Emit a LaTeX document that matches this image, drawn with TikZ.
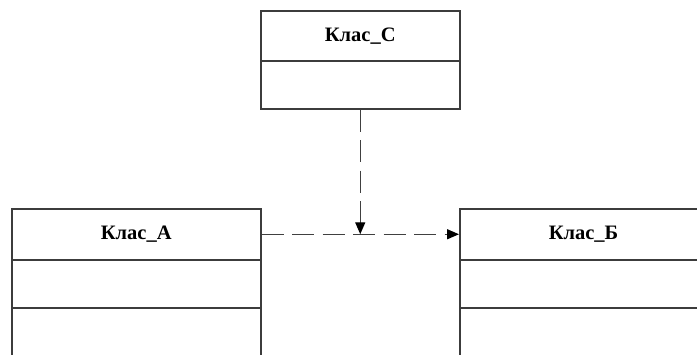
\documentclass[tikz,border=0pt]{standalone}
\usepackage{fontspec}
\setmainfont{Liberation Serif}
\usetikzlibrary{arrows.meta}
\definecolor{boxline}{HTML}{3C3C3C}
\definecolor{depline}{HTML}{404040}
\begin{document}
\begin{tikzpicture}[x=1pt,y=-1pt,
  cell/.style={draw=boxline, line width=1.5pt, fill=white, inner sep=0pt, anchor=north west},
  hdr/.style={cell, font=\bfseries\fontsize{20.5}{24}\selectfont},
  dep/.style={draw=depline, line width=1.4pt, dash pattern=on 22pt off 8.5pt,
    -{Triangle[length=12pt,width=10pt,color=black]}}
]
\useasboundingbox (0,0) rectangle (697,354);
\clip (0,0) rectangle (697,354);
% Klas_C
\node[hdr, minimum width=199pt, minimum height=50pt] (C) at (260,10) {Клас\_С};
\node[cell, minimum width=199pt, minimum height=48pt] (Cb) at (260,60) {};
% Klas_A
\node[hdr, minimum width=249pt, minimum height=51pt] (A) at (11,208) {Клас\_А};
\node[cell, minimum width=249pt, minimum height=48pt] (Aa) at (11,259) {};
\node[cell, minimum width=249pt, minimum height=60pt] (Ao) at (11,307) {};
% Klas_B
\node[hdr, minimum width=250pt, minimum height=51pt, text width=226pt, align=left] (B) at (459,208) {\hspace*{77pt}Клас\_Б};
\node[cell, minimum width=250pt, minimum height=48pt] (Ba) at (459,259) {};
\node[cell, minimum width=250pt, minimum height=60pt] (Bo) at (459,307) {};
% connectors
\coordinate (m) at (Cb.south |- A.east);
\draw[dep] (A.east) -- (B.west);
\draw[dep] (Cb.south) -- (m);
\end{tikzpicture}
\end{document}
